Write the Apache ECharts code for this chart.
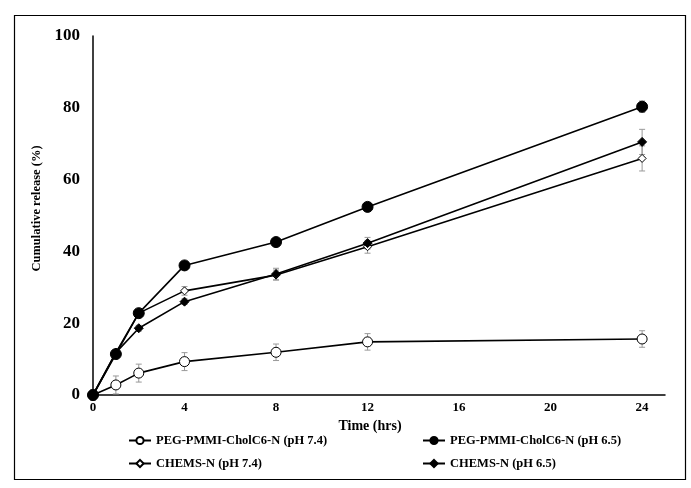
<!DOCTYPE html>
<html>
<head>
<meta charset="utf-8">
<script src="https://cdn.jsdelivr.net/npm/echarts@6/dist/echarts.min.js"></script>
<style>html,body{margin:0;padding:0;background:#fff}#c{width:691px;height:488px}</style>
</head>
<body>
<div id="c"></div>
<script>
const times = [0, 1, 2, 4, 8, 12, 24];
const pegPH74 = [0, 2.8, 6.1, 9.3, 11.9, 14.8, 15.6];
const pegPH74Err = [1.5, 2.5, 2.5, 2.5, 2.3, 2.3, 2.3];
const pegPH65 = [0, 11.4, 22.8, 36.1, 42.6, 52.4, 80.3];
const pegPH65Err = [0, 0.8, 0.8, 0.8, 0.8, 0.8, 1.6];
const chemsPH74 = [0, 11.8, 22.8, 29.0, 33.4, 41.3, 65.9];
const chemsPH74Err = [0, 0.8, 0.8, 1.2, 1.4, 1.8, 3.5];
const chemsPH65 = [0, 11.8, 18.6, 26.0, 33.7, 42.3, 70.5];
const chemsPH65Err = [0, 0.8, 0.8, 0.8, 1.6, 1.6, 3.5];
const names = ['PEG-PMMI-CholC6-N (pH 7.4)', 'PEG-PMMI-CholC6-N (pH 6.5)', 'CHEMS-N (pH 7.4)', 'CHEMS-N (pH 6.5)'];
const xTicks = [0, 4, 8, 12, 16, 20, 24];

const FONT = '"Liberation Serif", "Times New Roman", serif';
const chart = echarts.init(document.getElementById('c'));

function pairs(vals) { return times.map((t, i) => [t, vals[i]]); }
function errData(vals, errs) { return times.map((t, i) => [t, vals[i], errs[i]]); }

function errSeries(vals, errs) {
  return {
    type: 'custom',
    silent: true,
    z: 1,
    data: errData(vals, errs),
    renderItem: function (params, api) {
      const x = api.value(0), y = api.value(1), e = api.value(2);
      if (!e) return null;
      const top = api.coord([x, y + e]);
      const bot = api.coord([x, y - e]);
      const cw = 3;
      const st = { stroke: '#999', lineWidth: 1 };
      return {
        type: 'group',
        children: [
          { type: 'line', shape: { x1: top[0], y1: top[1], x2: bot[0], y2: bot[1] }, style: st },
          { type: 'line', shape: { x1: top[0] - cw, y1: top[1], x2: top[0] + cw, y2: top[1] }, style: st },
          { type: 'line', shape: { x1: bot[0] - cw, y1: bot[1], x2: bot[0] + cw, y2: bot[1] }, style: st }
        ]
      };
    }
  };
}

function lineSeries(name, vals, symbol, size, filled, z) {
  return {
    name: name,
    type: 'line',
    z: z,
    data: pairs(vals),
    symbol: symbol,
    symbolSize: size,
    showAllSymbol: true,
    lineStyle: { color: '#000', width: 1.6 },
    itemStyle: { color: filled ? '#000' : '#fff', borderColor: '#000', borderWidth: 1 },
    emphasis: { disabled: true },
    animation: false
  };
}

function legendAt(name, left, top) {
  return {
    data: [name],
    left: left, top: top,
    itemWidth: 22, itemHeight: 9,
    textStyle: { fontFamily: FONT, fontWeight: 'bold', fontSize: 12.5, color: '#000' },
    itemGap: 2,
    padding: 0,
    selectedMode: false
  };
}

chart.setOption({
  animation: false,
  backgroundColor: '#fff',
  graphic: [{
    type: 'rect', left: 12, top: 13,
    shape: { width: 671, height: 464 },
    style: { fill: 'none', stroke: '#000', lineWidth: 1.2 }
  }],
  grid: { left: 93, right: 26, top: 36, bottom: 93 },
  legend: [
    legendAt(names[0], 128, 434),
    legendAt(names[1], 422, 434),
    legendAt(names[2], 128, 457),
    legendAt(names[3], 422, 457)
  ],
  xAxis: {
    type: 'value', min: 0, max: 25, interval: 4,
    name: 'Time (hrs)', nameLocation: 'middle', nameGap: 21,
    nameTextStyle: { fontFamily: FONT, fontWeight: 'bold', fontSize: 14, color: '#000', padding: [0, 18, 0, 0] },
    axisLine: { lineStyle: { color: '#000', width: 1.5 } },
    axisTick: { show: false },
    splitLine: { show: false },
    axisLabel: {
      fontFamily: FONT, fontWeight: 'bold', fontSize: 13, color: '#000', margin: 6,
      formatter: function (v) { return xTicks.indexOf(v) >= 0 ? String(v) : ''; }
    }
  },
  yAxis: {
    type: 'value', min: 0, max: 100, interval: 20,
    name: 'Cumulative release (%)', nameLocation: 'middle', nameGap: 44,
    nameTextStyle: { fontFamily: FONT, fontWeight: 'bold', fontSize: 12.5, color: '#000', padding: [0, 0, 0, 14] },
    axisLine: { show: true, lineStyle: { color: '#000', width: 1.5 } },
    axisTick: { show: false },
    splitLine: { show: false },
    axisLabel: { fontFamily: FONT, fontWeight: 'bold', fontSize: 17, color: '#000', margin: 13 }
  },
  series: [
    errSeries(pegPH74, pegPH74Err),
    errSeries(pegPH65, pegPH65Err),
    errSeries(chemsPH74, chemsPH74Err),
    errSeries(chemsPH65, chemsPH65Err),
    lineSeries(names[0], pegPH74, 'circle', 10, false, 3),
    lineSeries(names[1], pegPH65, 'circle', 11, true, 5),
    lineSeries(names[2], chemsPH74, 'diamond', 8, false, 3),
    lineSeries(names[3], chemsPH65, 'diamond', 9, true, 4)
  ]
});
</script>
</body>
</html>
